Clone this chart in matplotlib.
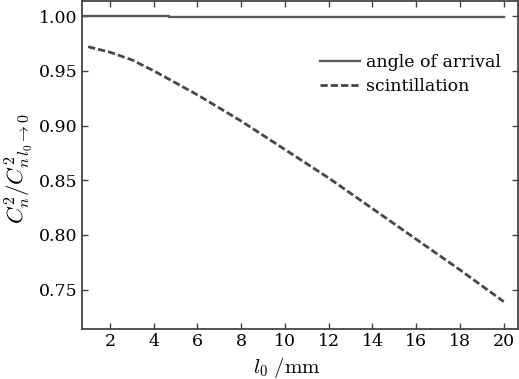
import matplotlib
matplotlib.use("Agg")
import matplotlib.pyplot as plt
from matplotlib.ticker import MultipleLocator

plt.rcParams["mathtext.fontset"] = "cm"
plt.rcParams["font.family"] = "serif"
plt.rcParams["font.serif"] = ["DejaVu Serif"]

# scintillation curve, read at integer l0 (mm)
l0 = [1, 2, 3, 4, 5, 6, 7, 8, 9, 10, 11, 12, 13, 14, 15, 16, 17, 18, 19, 20]
scint = [0.972, 0.967, 0.960, 0.950, 0.939, 0.928, 0.916, 0.904, 0.891, 0.878,
         0.865, 0.852, 0.838, 0.824, 0.810, 0.796, 0.782, 0.768, 0.7535, 0.739]

# angle of arrival: flat at 1, tiny step near l0 = 4.7 mm
aoa_x = [0.75, 4.7, 4.7, 20]
aoa_y = [1.000, 1.000, 0.9989, 0.9989]

GREY = "#5a5a5a"
SPINE = "#444444"

fig = plt.figure(figsize=(5.19, 3.79), dpi=100)
ax = fig.add_axes([0.158, 0.132, 0.840, 0.865])

ax.plot(aoa_x, aoa_y, color=GREY, lw=1.7, label="angle of arrival")
ax.plot(l0, scint, color="#474747", lw=2.0, ls=(0, (2.6, 1.1)),
        label="scintillation")

ax.set_xlim(0.72, 20.65)
ax.set_ylim(0.714, 1.0137)
ax.xaxis.set_major_locator(MultipleLocator(2))
ax.yaxis.set_major_locator(MultipleLocator(0.05))
ax.yaxis.set_major_formatter(lambda v, p: f"{v:.2f}")
ax.tick_params(direction="in", top=True, right=True, length=4, width=1.0,
               color=SPINE, labelsize=12.5, pad=3)
for s in ax.spines.values():
    s.set_color(SPINE)
    s.set_linewidth(1.3)

ax.set_xlabel(r"$l_0\ /\mathrm{mm}$", fontsize=15)
ax.xaxis.set_label_coords(0.47, -0.078)
ax.set_ylabel(r"$C_n^2/C_{n\,l_0\to 0}^2$", fontsize=16.5)
ax.yaxis.set_label_coords(-0.108, 0.49)

ax.legend(loc="upper right", bbox_to_anchor=(0.985, 0.87), frameon=False,
          fontsize=12.5, handlelength=2.3, handletextpad=0.35, labelspacing=0.4,
          borderaxespad=0.2)

fig.savefig("out.png", dpi=100, facecolor="white")
